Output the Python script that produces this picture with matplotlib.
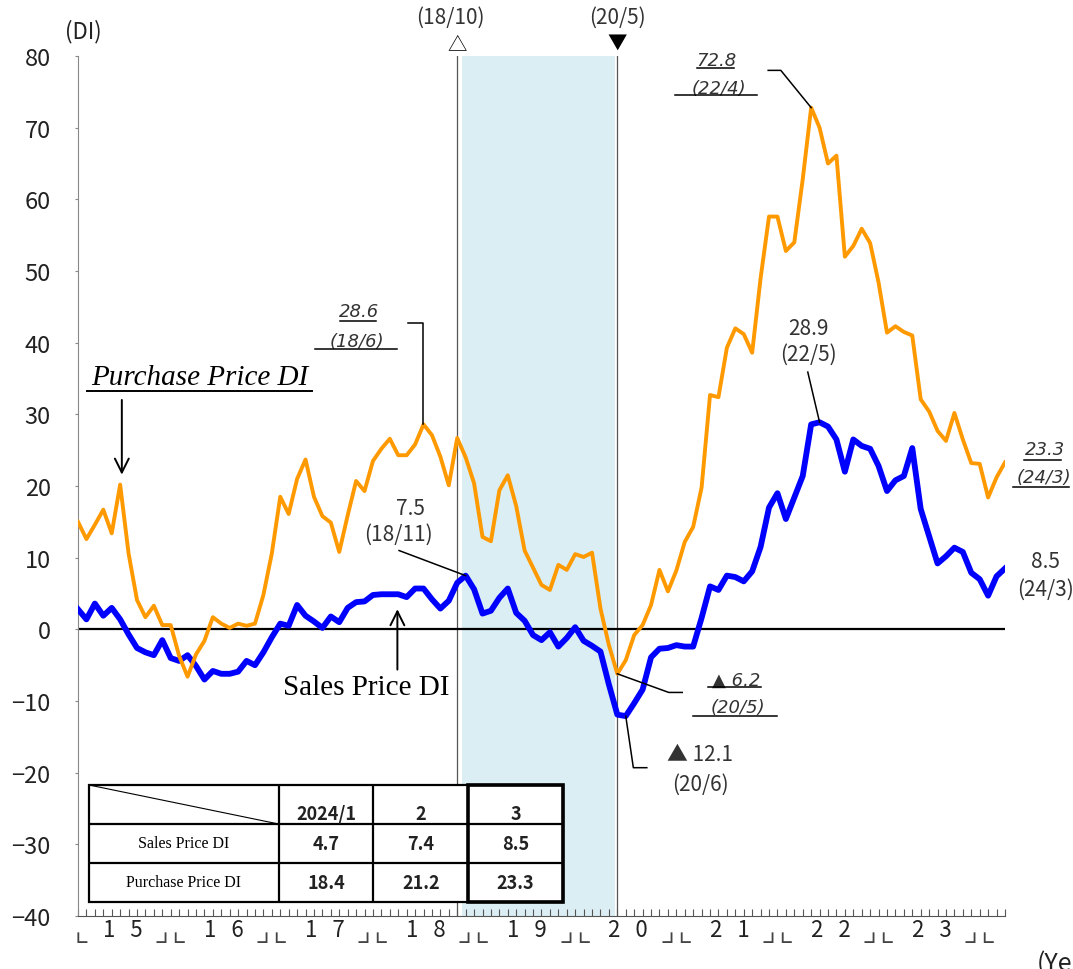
import numpy as np
import matplotlib.pyplot as plt
from matplotlib.patches import Rectangle

plt.rcParams['font.family'] = ['Noto Sans CJK JP', 'DejaVu Sans']

# monthly DI, 2015/1 .. 2024/3
start_year = 2015
sales_di = [2.8, 1.4, 3.6, 1.9, 3.0, 1.4, -0.7, -2.6, -3.2, -3.6, -1.5, -4.0,
            -4.4, -3.6, -5.1, -7.0, -5.8, -6.2, -6.2, -5.9, -4.4, -5.0, -3.2, -1.1,
            0.8, 0.5, 3.4, 1.9, 1.1, 0.2, 1.8, 1.0, 3.0, 3.8, 3.9, 4.8,
            4.9, 4.9, 4.9, 4.5, 5.7, 5.7, 4.2, 2.9, 4.0, 6.5, 7.5, 5.6,
            2.2, 2.6, 4.4, 5.7, 2.3, 1.2, -0.8, -1.5, -0.4, -2.4, -1.2, 0.3,
            -1.6, -2.3, -3.1, -7.7, -11.9, -12.1, -10.3, -8.4, -3.9, -2.7, -2.6, -2.2,
            -2.4, -2.4, 1.6, 6.0, 5.5, 7.5, 7.3, 6.7, 8.1, 11.5, 17.0, 19.0,
            15.4, 18.4, 21.4, 28.6, 28.9, 28.3, 26.5, 22.0, 26.5, 25.6, 25.2, 22.8,
            19.3, 20.8, 21.4, 25.3, 16.8, 13.0, 9.2, 10.2, 11.4, 10.8, 7.9, 7.0,
            4.7, 7.4, 8.5]
purchase_di = [15.0, 12.6, 14.6, 16.7, 13.4, 20.2, 10.6, 4.1, 1.7, 3.3, 0.6, 0.6,
               -3.7, -6.6, -3.5, -1.6, 1.7, 0.8, 0.2, 0.8, 0.5, 0.8, 4.8, 10.6,
               18.5, 16.1, 21.0, 23.7, 18.5, 15.8, 14.9, 10.8, 15.9, 20.7, 19.3, 23.5,
               25.2, 26.6, 24.3, 24.3, 25.8, 28.6, 27.1, 24.1, 20.1, 26.7, 24.0, 20.4,
               12.9, 12.3, 19.4, 21.5, 17.2, 11.0, 8.6, 6.2, 5.5, 9.0, 8.3, 10.5,
               10.1, 10.7, 2.9, -2.2, -6.2, -4.3, -0.8, 0.6, 3.4, 8.3, 5.3, 8.2,
               12.2, 14.3, 19.8, 32.7, 32.4, 39.3, 42.0, 41.2, 38.6, 49.0, 57.6, 57.6,
               52.8, 54.0, 62.8, 72.8, 70.0, 65.0, 66.1, 52.0, 53.5, 55.9, 53.9, 48.4,
               41.4, 42.3, 41.5, 41.0, 32.1, 30.4, 27.7, 26.3, 30.2, 26.5, 23.2, 23.1,
               18.4, 21.2, 23.3]

# recession period (peak / trough month index)
peak_idx = 45      # 18/10
trough_idx = 64    # 20/5

table_cols = ['2024/1', '2', '3']
table_rows = ['Sales Price DI', 'Purchase Price DI']

x = np.arange(len(sales_di))

fig = plt.figure(figsize=(10.73, 9.70), dpi=100)
ax = fig.add_axes([0.0727, 0.0546, 0.8639, 0.8866])

ax.axvspan(peak_idx + 0.6, trough_idx - 0.3, color='#DAEEF3', zorder=0, lw=0)
ax.axvline(peak_idx, color='#555555', lw=0.9, zorder=1)
ax.axvline(trough_idx, color='#555555', lw=0.9, zorder=1)
ax.axhline(0, color='black', lw=1.6, zorder=2)

ax.plot(x, sales_di, color='#0000FF', lw=4.2, zorder=3, solid_joinstyle='round')
ax.plot(x, purchase_di, color='#FF9900', lw=2.8, zorder=4, solid_joinstyle='round')

ax.set_xlim(0, 110)
ax.set_ylim(-40, 80)
ax.set_yticks(range(-40, 81, 10))
ax.set_xticks(x)
ax.set_xticklabels([])
ax.tick_params(axis='y', direction='out', length=2.2, color='#888888', pad=17.5,
               labelsize=17, labelcolor='#222222')
ax.tick_params(axis='x', direction='in', length=5, color='#555555')
for s in ['top', 'right']:
    ax.spines[s].set_visible(False)
ax.spines['left'].set_color('#888888')
ax.spines['bottom'].set_color('#555555')

# year labels with corner marks
xt = ax.get_xaxis_transform()
corner = dict(transform=xt, ha='center', va='baseline', fontsize=20, color='#444444',
              family=['STIXGeneral', 'DejaVu Sans'])
for k in range(9):
    yy = str(start_year + k)[2:]
    ax.text(12 * k + 5.3, -0.0233, yy[0] + '   ' + yy[1], transform=xt,
            ha='center', va='baseline', fontsize=16, color='#222222')
ax.text(0.5, -0.0233, '⌞', **corner)
for k in range(1, 10):
    ax.text(12 * k - 1, -0.0233, '⌟\u2009⌞', **corner)
fig.text(0.9665, 0.019, '(Year)', ha='left', va='top', fontsize=18, color='#222222')
ax.text(0.6, 83.6, '(DI)', ha='center', va='center', fontsize=16, color='#222222', clip_on=False)

# recession markers
ax.text(peak_idx - 0.8, 85.5, '(18/10)', ha='center', va='center', fontsize=15, color='#333333', clip_on=False)
ax.text(trough_idx, 85.5, '(20/5)', ha='center', va='center', fontsize=15, color='#333333', clip_on=False)
ax.text(peak_idx, 81.7, '△', ha='center', va='center', fontsize=14, clip_on=False)
ax.text(trough_idx, 81.9, '▼', ha='center', va='center', fontsize=14, clip_on=False)

lbl = dict(ha='center', va='center', fontsize=15, color='#333333', clip_on=False)
ital = dict(ha='center', va='center', fontsize=13, color='#333333', clip_on=False,
            family='DejaVu Sans', style='oblique')
lead = dict(color='black', lw=1.1, clip_on=False, zorder=5)

# purchase peak 22/4
ax.text(75.8, 79.5, '72.8', **ital)
ax.text(76.0, 75.6, '(22/4)', **ital)
ax.plot([73.4, 77.9], [78.4, 78.4], **lead)
ax.plot([70.9, 80.6], [74.5, 74.5], **lead)
ax.plot([81.9, 83.4, 87.0], [78.0, 78.0, purchase_di[87]], **lead)

# purchase 18/6
ax.text(33.3, 44.4, '28.6', **ital)
ax.text(33.1, 40.3, '(18/6)', **ital)
ax.plot([31.1, 35.4], [43.0, 43.0], **lead)
ax.plot([28.1, 37.9], [39.1, 39.1], **lead)
ax.plot([39.2, 40.9, 40.9], [42.7, 42.7, purchase_di[41]], **lead)

# purchase trough 20/5
ax.text(78.1, -7.0, '▲ 6.2', **ital)
ax.text(78.3, -10.9, '(20/5)', **ital)
ax.plot([74.8, 81.0], [-8.1, -8.1], **lead)
ax.plot([73.0, 82.9], [-12.1, -12.1], **lead)
ax.plot([64.0, 70.1, 71.7], [purchase_di[64], -8.8, -8.8], **lead)

# purchase latest
ax.text(114.8, 25.1, '23.3', **ital)
ax.text(114.6, 21.2, '(24/3)', **ital)
ax.plot([112.2, 116.6], [23.7, 23.7], **lead)
ax.plot([110.9, 117.6], [19.8, 19.8], **lead)

# sales annotations
ax.text(39.4, 17.0, '7.5', **lbl)
ax.text(38.0, 13.3, '(18/11)', **lbl)
ax.plot([38.1, 46.0], [11.0, sales_di[46]], **lead)

ax.text(86.7, 42.1, '28.9', **lbl)
ax.text(86.7, 38.4, '(22/5)', **lbl)
ax.plot([86.6, 88.0], [35.9, sales_di[88]], **lead)

ax.text(73.8, -17.4, '▲ 12.1', **lbl)
ax.text(73.9, -21.5, '(20/6)', **lbl)
ax.plot([65.0, 65.9, 67.5], [sales_di[65], -19.3, -19.3], **lead)

ax.text(114.8, 9.5, '8.5', **lbl)
ax.text(114.8, 5.6, '(24/3)', **lbl)

# series labels
ax.text(14.5, 35.2, 'Purchase Price DI', ha='center', va='center', fontsize=21,
        family='Liberation Serif', style='italic', clip_on=False)
ax.plot([1.07, 27.8], [33.3, 33.3], color='black', lw=1.4)
ax.annotate('', xy=(5.2, 21.2), xytext=(5.2, 32.4),
            arrowprops=dict(arrowstyle='->', lw=1.4, color='black', mutation_scale=25))
ax.text(34.2, -8.1, 'Sales Price DI', ha='center', va='center', fontsize=21,
        family='Liberation Serif')
ax.annotate('', xy=(37.9, 3.2), xytext=(37.9, -6.0),
            arrowprops=dict(arrowstyle='->', lw=1.4, color='black', mutation_scale=25))

# table of latest values
tax = fig.add_axes([89 / 1073, 1 - 903 / 970, 474 / 1073, 117 / 970])
tax.set_xlim(0, 5)
tax.set_ylim(3, 0)
tax.axis('off')
tax.add_patch(Rectangle((0, 0), 5, 3, facecolor='white', edgecolor='black', lw=1.6, clip_on=False))
for yv in [1, 2]:
    tax.plot([0, 5], [yv, yv], color='black', lw=1.6)
for xv in [2, 3]:
    tax.plot([xv, xv], [0, 3], color='black', lw=1.6)
tax.add_patch(Rectangle((4, 0), 1, 3, fill=False, edgecolor='black', lw=2.6, clip_on=False))
tax.plot([0, 2], [0, 1], color='black', lw=0.8)
for j, c in enumerate(table_cols):
    tax.text(2.5 + j, 0.72, c, ha='center', va='center', fontsize=13, weight='bold', color='#222222')
for r, (name, vals) in enumerate(zip(table_rows, [sales_di[-3:], purchase_di[-3:]])):
    tax.text(1.0, 1.5 + r, name, ha='center', va='center', fontsize=11.5, family='Liberation Serif')
    for j, v in enumerate(vals):
        tax.text(2.5 + j, 1.5 + r, f'{v:.1f}', ha='center', va='center', fontsize=13,
                 weight='bold', color='#222222')

fig.savefig('out.png', dpi=100)
